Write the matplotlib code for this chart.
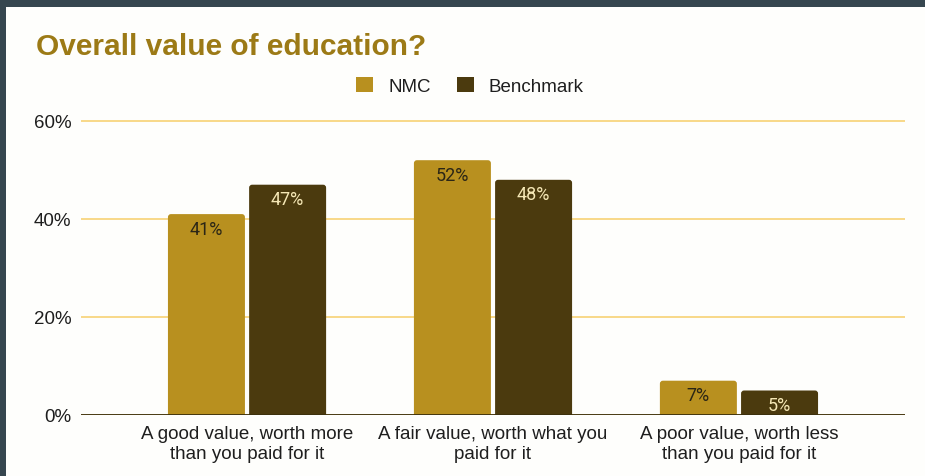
import matplotlib
matplotlib.use("Agg")
import matplotlib.pyplot as plt
from matplotlib.patches import FancyBboxPatch
import numpy as np

categories = [
    "A good value, worth more\nthan you paid for it",
    "A fair value, worth what you\npaid for it",
    "A poor value, worth less\nthan you paid for it",
]
series_names = ["NMC", "Benchmark"]
nmc = [41, 52, 7]
benchmark = [47, 48, 5]
yticks = [0, 20, 40, 60]
ytick_labels = ["0%", "20%", "40%", "60%"]

GOLD = "#b8901f"
BROWN = "#4b3a0e"
TITLE = "#9c7a16"
GRID = "#f8d67f"
CARD = "#fefefc"
FRAME = "#36464f"

plt.rcParams["font.family"] = ["Liberation Sans", "DejaVu Sans"]

fig = plt.figure(figsize=(9.25, 4.77), dpi=100)
fig.patch.set_facecolor(FRAME)

# white card behind everything
W, H = 925, 477
card = plt.Rectangle((6 / W, 0), 1, 1 - 8 / H, transform=fig.transFigure,
                     facecolor=CARD, edgecolor="none", zorder=-10)
fig.patches.append(card)

# axes: 0% at y=416px, 60% at y=122px; a little headroom so the top grid line is not clipped
px_per_pct = (416 - 122) / 60
top_pct = 61
ax = fig.add_axes([81 / W, (H - 416) / H, (905 - 81) / W,
                   top_pct * px_per_pct / H])
ax.set_facecolor("none")

x = np.arange(len(categories))
bw = 0.313
off = 0.165
b1 = ax.bar(x - off, nmc, bw, color=GOLD, zorder=3)
b2 = ax.bar(x + off, benchmark, bw, color=BROWN, zorder=3)

# rounded-top versions of the bars
px_per_xunit = 246.0
r_px = 3.0
for bars in (b1, b2):
    for r in bars:
        r.set_visible(False)
        p = FancyBboxPatch((r.get_x(), -2), r.get_width(), r.get_height() + 2,
                           boxstyle=f"round,pad=0,rounding_size={r_px / px_per_xunit}",
                           mutation_aspect=px_per_xunit / px_per_pct,
                           facecolor=r.get_facecolor(), edgecolor="none", zorder=3)
        ax.add_patch(p)

for bars, vals, col in ((b1, nmc, "#2b2616"), (b2, benchmark, "#f5e7b5")):
    for r, v in zip(bars, vals):
        ax.annotate(f"{v}%", (r.get_x() + r.get_width() / 2, v),
                    xytext=(0, -10.5), textcoords="offset points",
                    ha="center", va="center", fontsize=13, color=col,
                    family=["Roboto", "DejaVu Sans"], zorder=4)

ax.set_xlim(-0.675, 2.675)
ax.set_ylim(0, top_pct)
ax.set_yticks(yticks)
ax.set_yticklabels(ytick_labels, fontsize=13.5, color="#1e1e1e")
ax.set_xticks(x)
ax.set_xticklabels(categories, fontsize=13.5, color="#1e1e1e", linespacing=1.2)
ax.tick_params(length=0)
ax.tick_params(axis="y", pad=7)
ax.tick_params(axis="x", pad=7.5)
for s in ax.spines.values():
    s.set_visible(False)
ax.yaxis.grid(True, color=GRID, linewidth=1.3, zorder=1)
ax.axhline(0, color="#3b2f0c", linewidth=1.3, zorder=5)

fig.text(36 / W, 1 - 47 / H, "Overall value of education?", fontsize=21.5,
         fontweight="bold", color=TITLE, ha="left", va="center")

leg = fig.legend([b1, b2], series_names, loc="center", ncol=2,
                 bbox_to_anchor=(470 / W, 1 - 87 / H), frameon=False,
                 fontsize=13.5, handlelength=0.9, handleheight=0.9,
                 handletextpad=0.8, columnspacing=1.4)
for h in leg.legend_handles:
    h.set_visible(True)
for t in leg.get_texts():
    t.set_color("#1e1e1e")

fig.savefig("out.png", dpi=100, facecolor=fig.get_facecolor())
